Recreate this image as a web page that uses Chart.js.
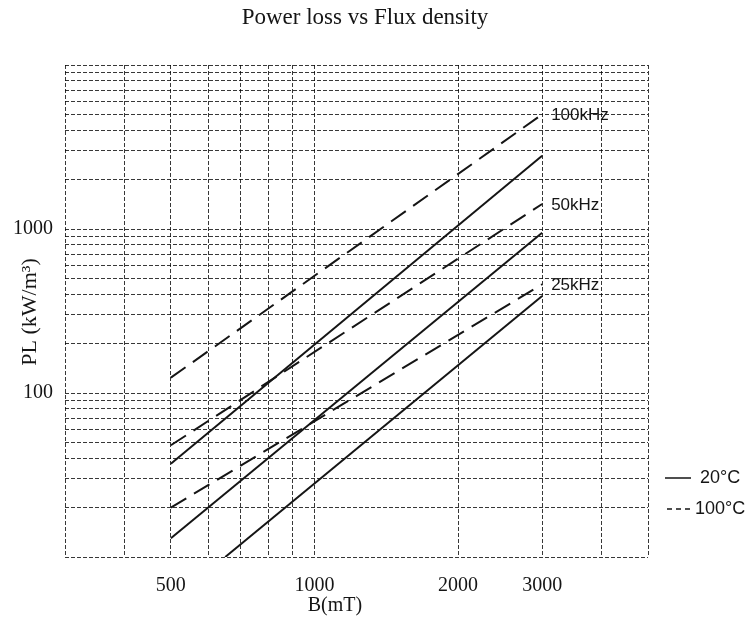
<!DOCTYPE html>
<html>
<head>
<meta charset="utf-8">
<title>Power loss vs Flux density</title>
<script src="https://cdn.jsdelivr.net/npm/chart.js@4.4.1/dist/chart.umd.min.js"></script>
<style>
  html, body { margin: 0; padding: 0; background: #fff; }
  #wrap { width: 755px; height: 624px; }
</style>
</head>
<body>
<div id="wrap"><canvas id="plChart" width="755" height="624"></canvas></div>
<script>
// Flux density (mT) at the ends of each curve
const bEnds = [500, 3000];
const bEnds25k20 = [650, 3000];

// Power loss (kW/m^3) at those ends
const pl100k20 = [37, 2800];
const pl100k100 = [124, 5000];
const pl50k20 = [13, 950];
const pl50k100 = [48, 1420];
const pl25k20 = [10, 390];
const pl25k100 = [20, 460];

// Log paper grid and the labelled ticks
const bGrid = [300, 400, 500, 600, 700, 800, 900, 1000, 2000, 3000, 4000, 5000];
const bLabels = [500, 1000, 2000, 3000];
const plGrid = [10, 20, 30, 40, 50, 60, 70, 80, 90,
                100, 200, 300, 400, 500, 600, 700, 800, 900,
                1000, 2000, 3000, 4000, 5000, 6000, 7000, 8000, 9000, 10000];
const plLabels = [100, 1000];

const freqLabels = ['100kHz', '50kHz', '25kHz'];
const tempLabels = ['20°C', '100°C'];

const INK = '#151515';
const serif = '"Liberation Serif", "DejaVu Serif", serif';
const sans = '"Liberation Sans", Arial, sans-serif';

function pts(xs, ys) {
    return xs.map((x, i) => ({ x: x, y: ys[i] }));
}

function curve(xs, ys, dashed) {
    return {
        data: pts(xs, ys),
        borderColor: INK,
        borderWidth: 2,
        borderDash: dashed ? [18, 9] : [],
        pointRadius: 0,
        fill: false,
        tension: 0
    };
}

const datasets = [
    curve(bEnds, pl100k100, true),   // 0
    curve(bEnds, pl100k20, false),   // 1
    curve(bEnds, pl50k100, true),    // 2
    curve(bEnds, pl50k20, false),    // 3
    curve(bEnds, pl25k100, true),    // 4
    curve(bEnds25k20, pl25k20, false) // 5
];

// titles, frequency tags and the temperature key
const textLayer = {
    id: 'textLayer',
    afterDraw(chart) {
        const ctx = chart.ctx;
        ctx.save();
        ctx.fillStyle = INK;
        ctx.textBaseline = 'middle';

        ctx.font = '23px ' + serif;
        ctx.textAlign = 'center';
        ctx.fillText('Power loss vs Flux density', 365, 18);

        ctx.font = '20px ' + serif;
        ctx.fillText('B(mT)', 335, 606);

        ctx.save();
        ctx.translate(30, 312);
        ctx.rotate(-Math.PI / 2);
        ctx.font = '22px ' + serif;
        ctx.fillText('PL (kW/m\u00B3)', 0, 0);
        ctx.restore();

        // tag each pair at the end of its 100°C curve
        ctx.font = '17px ' + sans;
        ctx.textAlign = 'left';
        [0, 2, 4].forEach((di, i) => {
            const meta = chart.getDatasetMeta(di);
            const end = meta.data[meta.data.length - 1];
            ctx.fillText(freqLabels[i], end.x + 9, end.y + 1);
        });

        // key
        ctx.strokeStyle = INK;
        ctx.lineWidth = 1.5;
        ctx.beginPath();
        ctx.moveTo(665, 478);
        ctx.lineTo(691, 478);
        ctx.stroke();
        ctx.setLineDash([5, 4]);
        ctx.beginPath();
        ctx.moveTo(667, 509);
        ctx.lineTo(692, 509);
        ctx.stroke();
        ctx.setLineDash([]);
        ctx.font = '18px ' + sans;
        ctx.fillText(tempLabels[0], 700, 478);
        ctx.fillText(tempLabels[1], 695, 509);
        ctx.restore();
    }
};

const gridStyle = { color: 'rgba(0,0,0,0.78)', lineWidth: 1, drawTicks: false };
const borderStyle = { display: false, dash: [4, 2] };

new Chart(document.getElementById('plChart').getContext('2d'), {
    type: 'line',
    data: { datasets: datasets },
    options: {
        responsive: false,
        animation: false,
        devicePixelRatio: 1,
        layout: { padding: { top: 65, right: 107, left: 0, bottom: 0 } },
        plugins: {
            legend: { display: false },
            title: { display: false },
            tooltip: { enabled: false }
        },
        scales: {
            x: {
                type: 'logarithmic',
                min: 300,
                max: 5000,
                afterBuildTicks: s => { s.ticks = bGrid.map(v => ({ value: v })); },
                afterFit: s => { s.height = 67; },
                grid: gridStyle,
                border: borderStyle,
                ticks: {
                    autoSkip: false,
                    maxRotation: 0,
                    padding: 17,
                    color: INK,
                    font: { family: serif, size: 20 },
                    callback: v => bLabels.includes(v) ? String(v) : ''
                }
            },
            y: {
                type: 'logarithmic',
                min: 10,
                max: 10000,
                afterBuildTicks: s => { s.ticks = plGrid.map(v => ({ value: v })); },
                afterFit: s => { s.width = 65; },
                grid: gridStyle,
                border: borderStyle,
                ticks: {
                    autoSkip: false,
                    padding: 12,
                    color: INK,
                    font: { family: serif, size: 20 },
                    callback: v => plLabels.includes(v) ? String(v) : ''
                }
            }
        }
    },
    plugins: [textLayer]
});
</script>
</body>
</html>
